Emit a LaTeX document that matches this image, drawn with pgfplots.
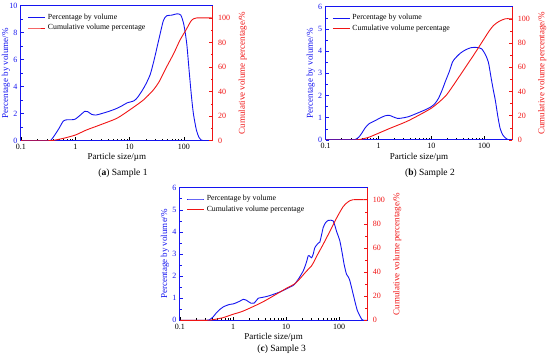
\documentclass[border=0pt]{standalone}
\usepackage{fontspec}
\setmainfont{Liberation Serif}
\usepackage{pgfplots}
\pgfplotsset{compat=1.18}
\definecolor{pblue}{RGB}{20,20,240}
\definecolor{pred}{RGB}{240,20,20}
\begin{document}
\begin{tikzpicture}
\path[use as bounding box] (0,0) rectangle (550pt,362pt);
% ---------- (a) ----------
\begin{axis}[scale only axis, anchor=south west, at={(21pt,221.3pt)}, width=191.7pt, height=135pt,
    xmode=log, xmin=0.1, xmax=340, xtick={0.1,1,10,100}, xticklabels={0.1,1,10,100},
    ymin=0, ymax=10, ytick={0,2,4,6,8,10}, minor y tick num=1,
    tick align=inside, xtick pos=bottom, ytick pos=left,
    major tick length=3.5pt, minor tick length=2pt,
    /pgf/number format/assume math mode=true,
    tick label style={font=\fontsize{8}{9}\selectfont},
    x axis line style={black!85, line width=1pt}, y axis line style={pblue, line width=1pt},
    xtick style={black, line width=0.6pt}, ytick style={pblue, line width=0.6pt}, yticklabel style={pblue},
    xlabel={Particle size/\textmu m}, ylabel={Percentage by volume/\%},
    xlabel style={at={([yshift=-17pt]axis description cs:0.5,0)}, anchor=center, font=\fontsize{9}{10}\selectfont},
    ylabel style={at={([xshift=-15pt]axis description cs:0,0.5)}, anchor=center, font=\fontsize{9}{10}\selectfont, pblue},
    legend style={draw=none, fill=none, at={(0.03,0.965)}, anchor=north west, font=\fontsize{7.8}{9}\selectfont, inner sep=1pt},
    legend cell align=left]
\addplot[pblue, line width=0.9pt, smooth, tension=0.4] coordinates {(0.1,0) (0.3,0) (0.35,0.02) (0.4,0.3) (0.5,0.9) (0.6,1.45) (0.7,1.55) (0.85,1.55) (1.0,1.6) (1.2,1.85) (1.5,2.18) (1.7,2.15) (2.0,1.95) (2.4,1.9) (3,2.0) (4,2.15) (5.5,2.35) (7,2.55) (9,2.8) (12,2.95) (14,3.2) (17,3.7) (20,4.2) (24,4.9) (28,5.9) (32,6.9) (37,8.0) (42,8.9) (48,9.25) (60,9.3) (75,9.4) (88,9.3) (100,8.6) (113,7.2) (125,5.2) (138,3.3) (150,2.0) (170,0.8) (190,0.25) (213,0.03) (240,0) (340,0)};
\addlegendentry{Percentage by volume}
\addlegendimage{pred, line width=0.9pt}
\addlegendentry{Cumulative volume percentage}
\end{axis}
\begin{axis}[scale only axis, anchor=south west, at={(21pt,221.3pt)}, width=191.7pt, height=135pt,
    xmode=log, xmin=0.1, xmax=340, axis x line=none, axis y line*=right,
    ymin=0, ymax=110, ytick={0,20,40,60,80,100}, minor y tick num=1,
    tick align=inside, major tick length=3.5pt, minor tick length=2pt,
    /pgf/number format/assume math mode=true,
    tick label style={font=\fontsize{8}{9}\selectfont},
    y axis line style={pred, line width=1pt}, ytick style={pred, line width=0.6pt}, yticklabel style={pred, xshift=2pt},
    ylabel={Cumulative volume percentage/\%},
    ylabel style={at={([xshift=30pt]axis description cs:1,0.5)}, anchor=center, font=\fontsize{9}{10}\selectfont, pred}]
\addplot[pred, line width=0.9pt, smooth, tension=0.4] coordinates {(0.1,0) (0.33,0) (0.4,0.3) (0.6,1.9) (1,4.6) (1.6,8.7) (2.8,12.7) (5.8,18.2) (10,25) (17.8,33) (27,41) (35,48) (48,60) (65,71) (85,82) (113,91.3) (138,98) (170,100) (340,100)};
\end{axis}
\node[font=\fontsize{9.5}{10}\selectfont] at (123pt,189pt) {(\textbf{a}) Sample 1};
% ---------- (b) ----------
\begin{axis}[scale only axis, anchor=south west, at={(325.7pt,222pt)}, width=186.6pt, height=133.3pt,
    xmode=log, xmin=0.1, xmax=340, xtick={0.1,1,10,100}, xticklabels={0.1,1,10,100},
    ymin=0, ymax=6, ytick={0,1,2,3,4,5,6}, minor y tick num=1,
    tick align=inside, xtick pos=bottom, ytick pos=left,
    major tick length=3.5pt, minor tick length=2pt,
    /pgf/number format/assume math mode=true,
    tick label style={font=\fontsize{8}{9}\selectfont},
    x axis line style={black!85, line width=1pt}, y axis line style={pblue, line width=1pt},
    xtick style={black, line width=0.6pt}, ytick style={pblue, line width=0.6pt}, yticklabel style={pblue},
    xlabel={Particle size/\textmu m}, ylabel={Percentage by volume/\%},
    xlabel style={at={([yshift=-17pt]axis description cs:0.5,0)}, anchor=center, font=\fontsize{9}{10}\selectfont},
    ylabel style={at={([xshift=-15pt]axis description cs:0,0.5)}, anchor=center, font=\fontsize{9}{10}\selectfont, pblue},
    legend style={draw=none, fill=none, at={(0.03,0.965)}, anchor=north west, font=\fontsize{7.8}{9}\selectfont, inner sep=1pt},
    legend cell align=left]
\addplot[pblue, line width=0.9pt, smooth, tension=0.4] coordinates {(0.1,0) (0.32,0) (0.36,0.02) (0.42,0.12) (0.48,0.3) (0.56,0.55) (0.65,0.72) (0.75,0.8) (0.86,0.87) (1.05,0.98) (1.33,1.09) (1.6,1.11) (1.9,1.04) (2.3,0.97) (2.8,0.99) (3.7,1.05) (5.7,1.23) (7.5,1.35) (9.5,1.47) (11.5,1.62) (13.6,1.87) (16,2.25) (18.3,2.62) (22,3.1) (25,3.5) (28,3.67) (35,3.9) (43.6,4.05) (55,4.15) (67.5,4.17) (80,4.15) (90,4.1) (105,3.85) (120,3.5) (135,2.8) (150,2.2) (162,1.8) (180,1.1) (200,0.52) (225,0.22) (250,0.1) (290,0) (340,0)};
\addlegendentry{Percentage by volume}
\addlegendimage{pred, line width=0.9pt}
\addlegendentry{Cumulative volume percentage}
\end{axis}
\begin{axis}[scale only axis, anchor=south west, at={(325.7pt,222pt)}, width=186.6pt, height=133.3pt,
    xmode=log, xmin=0.1, xmax=340, axis x line=none, axis y line*=right,
    ymin=0, ymax=110, ytick={0,20,40,60,80,100}, minor y tick num=1,
    tick align=inside, major tick length=3.5pt, minor tick length=2pt,
    /pgf/number format/assume math mode=true,
    tick label style={font=\fontsize{8}{9}\selectfont},
    y axis line style={pred, line width=1pt}, ytick style={pred, line width=0.6pt}, yticklabel style={pred, xshift=2pt},
    ylabel={Cumulative volume percentage/\%},
    ylabel style={at={([xshift=30pt]axis description cs:1,0.5)}, anchor=center, font=\fontsize{9}{10}\selectfont, pred}]
\addplot[pred, line width=0.9pt, smooth, tension=0.4] coordinates {(0.1,0) (0.35,0) (0.45,0.5) (0.65,2.2) (1,5.6) (1.66,9.7) (3.7,16) (10.1,26.4) (18.3,36) (25,44) (37.8,55.6) (67.5,72) (120,89) (150,94.5) (190,97.8) (250,100) (340,100)};
\end{axis}
\node[font=\fontsize{9.5}{10}\selectfont] at (430pt,189pt) {(\textbf{b}) Sample 2};
% ---------- (c) ----------
\begin{axis}[scale only axis, anchor=south west, at={(180pt,41.7pt)}, width=187.3pt, height=132.6pt,
    xmode=log, xmin=0.1, xmax=340, xtick={0.1,1,10,100}, xticklabels={0.1,1,10,100},
    ymin=0, ymax=6, ytick={0,1,2,3,4,5,6}, minor y tick num=1,
    tick align=inside, xtick pos=bottom, ytick pos=left,
    major tick length=3.5pt, minor tick length=2pt,
    /pgf/number format/assume math mode=true,
    tick label style={font=\fontsize{8}{9}\selectfont},
    x axis line style={black!85, line width=1pt}, y axis line style={pblue, line width=1pt},
    xtick style={black, line width=0.6pt}, ytick style={pblue, line width=0.6pt}, yticklabel style={pblue},
    xlabel={Particle size/\textmu m}, ylabel={Percentage by volume/\%},
    xlabel style={at={([yshift=-17pt]axis description cs:0.5,0)}, anchor=center, font=\fontsize{9}{10}\selectfont},
    ylabel style={at={([xshift=-15pt]axis description cs:0,0.5)}, anchor=center, font=\fontsize{9}{10}\selectfont, pblue},
    legend style={draw=none, fill=none, at={(0.03,0.965)}, anchor=north west, font=\fontsize{7.8}{9}\selectfont, inner sep=1pt},
    legend cell align=left]
\addplot[pblue, line width=0.9pt, smooth, tension=0.4] coordinates {(0.1,0) (0.31,0) (0.36,0.03) (0.42,0.15) (0.49,0.35) (0.57,0.5) (0.65,0.6) (0.75,0.67) (0.87,0.72) (1.0,0.74) (1.17,0.8) (1.35,0.87) (1.56,0.95) (1.75,0.92) (1.94,0.85) (2.2,0.77) (2.5,0.78) (2.8,0.92) (3.0,1.0) (4,1.06) (4.95,1.12) (7.6,1.28) (11.8,1.5) (14,1.6) (16.9,1.85) (21,2.23) (24,2.6) (26.2,2.92) (28,2.9) (30.3,2.83) (32.5,3.0) (34.9,3.29) (40,3.48) (43.3,3.54) (47,3.9) (50,4.19) (55,4.4) (62,4.52) (70,4.53) (77,4.5) (83,4.3) (89,4.04) (103,3.6) (115,3.0) (125,2.5) (138,2.08) (150,1.95) (159,1.8) (175,1.4) (198,0.87) (220,0.45) (246,0.2) (270,0.03) (290,0) (340,0)};
\addlegendentry{Percentage by volume}
\addlegendimage{pred, line width=0.9pt}
\addlegendentry{Cumulative volume percentage}
\end{axis}
\begin{axis}[scale only axis, anchor=south west, at={(180pt,41.7pt)}, width=187.3pt, height=132.6pt,
    xmode=log, xmin=0.1, xmax=340, axis x line=none, axis y line*=right,
    ymin=0, ymax=110, ytick={0,20,40,60,80,100}, minor y tick num=1,
    tick align=inside, major tick length=3.5pt, minor tick length=2pt,
    /pgf/number format/assume math mode=true,
    tick label style={font=\fontsize{8}{9}\selectfont},
    y axis line style={pred, line width=1pt}, ytick style={pred, line width=0.6pt}, yticklabel style={pred, xshift=2pt},
    ylabel={Cumulative volume percentage/\%},
    ylabel style={at={([xshift=30pt]axis description cs:1,0.5)}, anchor=center, font=\fontsize{9}{10}\selectfont, pred}]
\addplot[pred, line width=0.9pt, smooth, tension=0.4] coordinates {(0.1,0) (0.33,0) (0.42,0.5) (0.65,2.2) (1,5) (1.56,7.7) (3.7,15.4) (10,26.4) (15.3,31) (24.3,40.8) (30,45) (32.6,47.6) (37.6,53) (50,63) (67,73.8) (90,85) (120,94.5) (150,98.5) (183,100) (340,100)};
\end{axis}
\node[font=\fontsize{9.5}{10}\selectfont] at (281.7pt,13pt) {(\textbf{c}) Sample 3};
\end{tikzpicture}
\end{document}
